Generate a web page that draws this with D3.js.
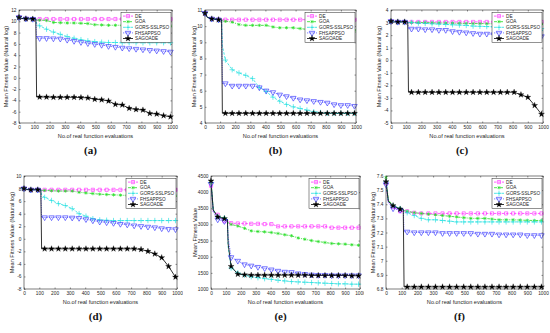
<!DOCTYPE html>
<html>
<head>
<meta charset="utf-8">
<script src="https://cdn.jsdelivr.net/npm/d3@7"></script>
<style>
  body { margin: 0; background: #fff; }
  svg { display: block; }
  text { font-family: "Liberation Sans", Arial, sans-serif; }
</style>
</head>
<body>
<svg id="fig" width="550" height="333"></svg>
<script>
// x positions of the sampled points (number of real function evaluations)
const evals = [0, 15, 45, 90, 110, 115, 135, 180, 225, 270, 315, 360, 405, 450, 495, 540, 585, 630, 675, 720, 765, 810, 855, 900, 945, 990, 1000];
const seriesNames = ["DE", "GOA", "GORS-SSLPSO", "FHSAPPSO", "SAGOADE"];
const xTicks = [0, 100, 200, 300, 400, 500, 600, 700, 800, 900, 1000];

// (a)
const a_DE   = [10.7, 10.5, 10.45, 10.4, 10.4, 10.4, 10.4, 10.4, 10.4, 10.4, 10.4, 10.4, 10.4, 10.4, 10.4, 10.4, 10.4, 10.4, 10.4, 10.4, 10.4, 10.4, 10.4, 10.4, 10.4, 10.4, 10.4];
const a_GOA  = [10.7, 10.5, 10.45, 10.4, 10.4, 10.2, 10.2, 10.15, 9.8, 9.75, 9.7, 9.7, 9.65, 9.6, 9.4, 9.35, 9.3, 9.3, 9.3, 9.3, 9.3, 9.3, 9.25, 9.25, 9.25, 9.2, 8.9];
const a_GORS = [10.7, 10.5, 10.45, 10.4, 10.4, 9.6, 9.2, 8.6, 8.1, 7.7, 7.3, 7.0, 6.75, 6.55, 6.4, 6.3, 6.25, 6.25, 6.2, 6.2, 6.2, 6.2, 6.2, 6.2, 6.2, 6.2, 6.2];
const a_FHS  = [10.7, 10.5, 10.45, 10.4, 10.4, 7.0, 7.0, 7.0, 6.95, 6.9, 6.7, 6.5, 6.3, 6.1, 5.95, 5.8, 5.6, 5.45, 5.3, 5.2, 5.1, 5.0, 4.9, 4.8, 4.7, 4.6, 4.5];
const a_SAGO = [10.7, 10.5, 10.45, 10.4, 10.4, -3.4, -3.4, -3.4, -3.45, -3.45, -3.45, -3.45, -3.5, -3.55, -3.8, -3.9, -4.1, -4.7, -4.8, -5.4, -5.6, -5.7, -6.3, -6.4, -6.7, -6.9, -7.1];
const a_yTicks = [-8, -6, -4, -2, 0, 2, 4, 6, 8, 10, 12];

// (b)
const b_DE   = [10.8, 10.55, 10.45, 10.4, 10.4, 10.4, 10.4, 10.4, 10.4, 10.4, 10.4, 10.4, 10.4, 10.4, 10.4, 10.4, 10.4, 10.4, 10.4, 10.4, 10.4, 10.4, 10.4, 10.4, 10.4, 10.4, 10.4];
const b_GOA  = [10.8, 10.55, 10.45, 10.4, 10.4, 10.3, 10.3, 10.25, 10.1, 10.05, 10.05, 10.05, 10.05, 9.95, 9.9, 9.9, 9.9, 9.85, 9.8, 9.8, 9.8, 9.8, 9.8, 9.8, 9.8, 9.75, 9.6];
const b_GORS = [10.8, 10.55, 10.45, 10.4, 10.4, 8.8, 7.9, 7.3, 7.1, 6.95, 6.75, 6.2, 5.95, 5.6, 5.35, 5.15, 5.0, 4.9, 4.8, 4.7, 4.65, 4.6, 4.6, 4.6, 4.6, 4.6, 4.6];
const b_FHS  = [10.8, 10.55, 10.45, 10.4, 10.4, 6.45, 6.45, 6.3, 6.3, 6.3, 6.3, 6.2, 6.0, 5.9, 5.75, 5.65, 5.55, 5.45, 5.4, 5.35, 5.3, 5.25, 5.15, 5.1, 5.1, 5.05, 5.05];
const b_SAGO = [10.8, 10.55, 10.45, 10.4, 10.4, 4.6, 4.6, 4.6, 4.6, 4.6, 4.6, 4.6, 4.6, 4.6, 4.6, 4.6, 4.6, 4.6, 4.6, 4.6, 4.6, 4.6, 4.6, 4.6, 4.6, 4.6, 4.6];
const b_yTicks = [4, 5, 6, 7, 8, 9, 10, 11];

// (c)
const c_DE   = [3.1, 3.05, 3.05, 3.05, 3.05, 3.05, 3.05, 3.05, 3.05, 3.05, 3.05, 3.05, 3.05, 3.05, 3.05, 3.05, 3.05, 3.05, 3.05, 3.05, 3.05, 3.05, 3.05, 3.05, 3.05, 3.05, 3.05];
const c_GOA  = [3.1, 3.05, 3.05, 3.05, 3.05, 3.0, 3.0, 3.0, 3.0, 2.98, 2.97, 2.96, 2.95, 2.94, 2.93, 2.92, 2.92, 2.91, 2.9, 2.9, 2.9, 2.9, 2.9, 2.9, 2.89, 2.88, 2.85];
const c_GORS = [3.1, 3.05, 3.05, 3.05, 3.05, 3.0, 3.0, 2.95, 2.93, 2.9, 2.88, 2.85, 2.82, 2.8, 2.77, 2.72, 2.7, 2.68, 2.66, 2.64, 2.62, 2.6, 2.58, 2.56, 2.54, 2.52, 2.3];
const c_FHS  = [3.1, 3.05, 3.05, 3.05, 3.05, 2.5, 2.5, 2.5, 2.45, 2.45, 2.4, 2.4, 2.3, 2.25, 2.2, 2.15, 2.1, 2.1, 2.05, 2.0, 2.0, 1.98, 1.95, 1.93, 1.92, 1.9, 1.85];
const c_SAGO = [3.1, 3.05, 3.05, 3.05, 3.05, -2.55, -2.55, -2.55, -2.55, -2.55, -2.55, -2.55, -2.55, -2.55, -2.55, -2.55, -2.55, -2.55, -2.55, -2.55, -2.55, -2.55, -2.75, -2.95, -3.6, -4.3, -4.45];
const c_yTicks = [-5, -4, -3, -2, -1, 0, 1, 2, 3, 4];

// (d)
const d_DE   = [8.0, 7.85, 7.8, 7.8, 7.8, 7.8, 7.8, 7.8, 7.8, 7.8, 7.8, 7.8, 7.8, 7.8, 7.8, 7.8, 7.8, 7.8, 7.8, 7.8, 7.8, 7.8, 7.8, 7.8, 7.8, 7.8, 7.7];
const d_GOA  = [8.0, 7.85, 7.8, 7.8, 7.8, 7.7, 7.7, 7.65, 7.6, 7.6, 7.6, 7.4, 7.3, 7.2, 7.1, 7.05, 7.0, 6.95, 6.9, 6.9, 6.9, 6.9, 6.9, 6.85, 6.85, 6.85, 6.7];
const d_GORS = [8.0, 7.85, 7.8, 7.8, 7.8, 7.0, 6.6, 6.1, 5.6, 5.3, 4.8, 4.0, 3.6, 3.2, 3.0, 2.95, 2.9, 2.9, 2.9, 2.9, 2.9, 2.9, 2.9, 2.9, 2.9, 2.9, 2.9];
const d_FHS  = [8.0, 7.85, 7.8, 7.8, 7.8, 3.4, 3.4, 3.4, 3.4, 3.4, 3.35, 3.3, 3.1, 2.9, 2.7, 2.6, 2.5, 2.35, 2.25, 2.1, 2.0, 1.9, 1.8, 1.65, 1.55, 1.5, 1.45];
const d_SAGO = [8.0, 7.85, 7.8, 7.8, 7.8, -1.6, -1.6, -1.6, -1.6, -1.6, -1.6, -1.6, -1.6, -1.6, -1.6, -1.6, -1.6, -1.6, -1.6, -1.6, -1.7, -2.0, -2.4, -3.0, -4.4, -6.1, -6.3];
const d_yTicks = [-8, -6, -4, -2, 0, 2, 4, 6, 8, 10];

// (e)
const e_DE   = [4200, 3400, 3300, 3100, 3150, 3080, 3040, 3030, 3030, 3020, 3020, 3010, 3010, 2940, 2940, 2940, 2940, 2940, 2940, 2940, 2940, 2900, 2900, 2900, 2900, 2900, 2900];
const e_GOA  = [4300, 3450, 3250, 3200, 3150, 3050, 3000, 2950, 2880, 2800, 2780, 2770, 2750, 2720, 2680, 2650, 2580, 2540, 2500, 2470, 2440, 2410, 2400, 2390, 2370, 2355, 2350];
const e_GORS = [4300, 3450, 3250, 3200, 3150, 2300, 1650, 1500, 1430, 1380, 1350, 1320, 1300, 1270, 1250, 1230, 1220, 1210, 1200, 1190, 1180, 1170, 1160, 1160, 1150, 1150, 1150];
const e_FHS  = [4250, 3400, 3150, 3100, 3150, 2600, 1980, 1870, 1760, 1720, 1680, 1640, 1600, 1560, 1530, 1520, 1480, 1460, 1440, 1430, 1430, 1420, 1420, 1420, 1420, 1420, 1420];
const e_SAGO = [4350, 3450, 3230, 3180, 3150, 2400, 1700, 1460, 1440, 1430, 1430, 1430, 1430, 1430, 1430, 1430, 1430, 1430, 1420, 1420, 1420, 1420, 1420, 1420, 1410, 1410, 1410];
const e_yTicks = [1000, 1500, 2000, 2500, 3000, 3500, 4000, 4500];

// (f)
const f_DE   = [7.55, 7.42, 7.38, 7.35, 7.35, 7.35, 7.35, 7.34, 7.335, 7.335, 7.335, 7.335, 7.335, 7.335, 7.335, 7.335, 7.335, 7.335, 7.335, 7.335, 7.335, 7.335, 7.335, 7.335, 7.335, 7.335, 7.335];
const f_GOA  = [7.59, 7.43, 7.39, 7.37, 7.36, 7.355, 7.35, 7.34, 7.335, 7.33, 7.325, 7.32, 7.315, 7.31, 7.305, 7.3, 7.3, 7.3, 7.295, 7.29, 7.29, 7.29, 7.288, 7.286, 7.285, 7.285, 7.28];
const f_GORS = [7.56, 7.42, 7.39, 7.37, 7.36, 7.35, 7.34, 7.32, 7.3, 7.29, 7.29, 7.285, 7.28, 7.275, 7.275, 7.275, 7.275, 7.275, 7.275, 7.275, 7.275, 7.275, 7.275, 7.275, 7.275, 7.275, 7.27];
const f_FHS  = [7.54, 7.41, 7.37, 7.36, 7.36, 7.205, 7.205, 7.2, 7.2, 7.2, 7.2, 7.195, 7.195, 7.195, 7.195, 7.195, 7.19, 7.19, 7.19, 7.185, 7.185, 7.185, 7.185, 7.18, 7.18, 7.18, 7.18];
const f_SAGO = [7.56, 7.42, 7.39, 7.365, 7.365, 6.815, 6.815, 6.815, 6.815, 6.815, 6.815, 6.815, 6.815, 6.815, 6.815, 6.815, 6.815, 6.815, 6.815, 6.815, 6.815, 6.815, 6.815, 6.815, 6.815, 6.815, 6.815];
const f_yTicks = [6.8, 6.9, 7, 7.1, 7.2, 7.3, 7.4, 7.5, 7.6];

const LOG_LABEL = "Mean Fitness Value (Natural log)";
const X_LABEL = "No.of real function evaluations";

// layout of each panel, in page pixels
const panels = [
  { tag: "(a)", x0: 19, x1: 172, y0: 10, y1: 123, cx0: 0, cx1: 183, cy0: 0, cy1: 165, ylim: [-8, 12], yTicks: a_yTicks, ylabel: LOG_LABEL, ylx: 6, series: [a_DE, a_GOA, a_GORS, a_FHS, a_SAGO] },
  { tag: "(b)", x0: 205, x1: 356, y0: 10, y1: 123, cx0: 183, cx1: 366, cy0: 0, cy1: 165, ylim: [4, 11], yTicks: b_yTicks, ylabel: LOG_LABEL, ylx: 194, series: [b_DE, b_GOA, b_GORS, b_FHS, b_SAGO] },
  { tag: "(c)", x0: 391, x1: 543, y0: 10, y1: 123, cx0: 366, cx1: 550, cy0: 0, cy1: 165, ylim: [-5, 4], yTicks: c_yTicks, ylabel: LOG_LABEL, ylx: 379, series: [c_DE, c_GOA, c_GORS, c_FHS, c_SAGO] },
  { tag: "(d)", x0: 24, x1: 177, y0: 176, y1: 289, cx0: 0, cx1: 183, cy0: 165, cy1: 333, ylim: [-8, 10], yTicks: d_yTicks, ylabel: LOG_LABEL, ylx: 12, series: [d_DE, d_GOA, d_GORS, d_FHS, d_SAGO] },
  { tag: "(e)", x0: 211, x1: 360, y0: 176, y1: 289, cx0: 183, cx1: 364, cy0: 165, cy1: 333, ylim: [1000, 4500], yTicks: e_yTicks, ylabel: "Mean Fitness Value", ylx: 195, series: [e_DE, e_GOA, e_GORS, e_FHS, e_SAGO] },
  { tag: "(f)", x0: 386, x1: 543, y0: 176, y1: 289, cx0: 366, cx1: 550, cy0: 165, cy1: 333, ylim: [6.8, 7.6], yTicks: f_yTicks, ylabel: LOG_LABEL, ylx: 373, series: [f_DE, f_GOA, f_GORS, f_FHS, f_SAGO] }
];

// line + marker style for each algorithm
const styles = [
  { color: "#ff33ff", dash: "2.5,1.5", sym: d3.symbolSquare, size: 10, fill: "none" },
  { color: "#22dd22", dash: "3,1,1,1", sym: d3.symbolAsterisk, size: 8, fill: "none" },
  { color: "#22e0e0", dash: "2.5,1.5", sym: d3.symbolPlus, size: 11, fill: "none" },
  { color: "#3333ff", dash: "0.8,1", sym: d3.symbolTriangle, size: 13, fill: "none", flip: true },
  { color: "#000000", dash: null, sym: d3.symbolStar, size: 11, fill: "#000" }
];

const INK = "#262626";
const svg = d3.select("#fig");
const defs = svg.append("defs");

function markerPath(st) {
  return d3.symbol().type(st.sym).size(st.size)();
}

panels.forEach((p, pi) => {
  defs.append("clipPath").attr("id", "cl" + pi)
    .append("rect").attr("x", p.cx0).attr("y", p.cy0)
    .attr("width", p.cx1 - p.cx0).attr("height", p.cy1 - p.cy0);
  defs.append("clipPath").attr("id", "pl" + pi)
    .append("rect").attr("x", p.x0).attr("y", p.y0)
    .attr("width", p.x1 - p.x0).attr("height", p.y1 - p.y0);

  const g = svg.append("g").attr("clip-path", `url(#cl${pi})`);

  const x = d3.scaleLinear().domain([0, 1000]).range([p.x0, p.x1]);
  const y = d3.scaleLinear().domain(p.ylim).range([p.y1, p.y0]);
  const fmt = d => String(+d.toFixed(2));

  const axes = [
    [d3.axisBottom(x).tickValues(xTicks).tickFormat(fmt), `translate(0,${p.y1})`],
    [d3.axisTop(x).tickValues(xTicks).tickFormat(""), `translate(0,${p.y0})`],
    [d3.axisLeft(y).tickValues(p.yTicks).tickFormat(fmt), `translate(${p.x0},0)`],
    [d3.axisRight(y).tickValues(p.yTicks).tickFormat(""), `translate(${p.x1},0)`]
  ];
  axes.forEach(([ax, tr]) => {
    const a = g.append("g").attr("transform", tr)
      .call(ax.tickSizeInner(-1.5).tickSizeOuter(0).tickPadding(2.5));
    a.select(".domain").remove();
    a.selectAll(".tick line").attr("stroke", INK).attr("stroke-width", 0.5);
    a.selectAll(".tick text").attr("fill", INK).style("font-size", "4.8px");
  });

  // data lines and markers
  const lines = g.append("g").attr("clip-path", `url(#pl${pi})`);
  p.series.forEach((vals, si) => {
    const st = styles[si];
    const line = d3.line().x((d, i) => x(evals[i])).y(d => y(d));
    lines.append("path")
      .attr("d", line(vals))
      .attr("fill", "none")
      .attr("stroke", st.color)
      .attr("stroke-width", 0.8)
      .attr("stroke-dasharray", st.dash);
  });
  p.series.forEach((vals, si) => {
    const st = styles[si];
    const pts = vals.map((v, i) => [evals[i], v]).filter(d => d[0] % 45 === 0);
    g.append("g").selectAll("path")
      .data(pts)
      .enter()
      .append("path")
      .attr("d", markerPath(st))
      .attr("transform", d => `translate(${x(d[0])},${y(d[1])})${st.flip ? " rotate(180)" : ""}`)
      .attr("fill", st.fill)
      .attr("stroke", st.color)
      .attr("stroke-width", si === 4 ? 0.3 : 0.65);
  });

  // box
  g.append("rect")
    .attr("x", p.x0).attr("y", p.y0)
    .attr("width", p.x1 - p.x0).attr("height", p.y1 - p.y0)
    .attr("fill", "none").attr("stroke", INK).attr("stroke-width", 0.6);

  // legend
  const lw = 50, lh = 30, lx = p.x1 - lw - 1, ly = p.y0 + 2.5;
  const leg = g.append("g");
  leg.append("rect").attr("x", lx).attr("y", ly).attr("width", lw).attr("height", lh)
    .attr("fill", "#fff").attr("stroke", INK).attr("stroke-width", 0.5);
  seriesNames.forEach((name, si) => {
    const st = styles[si];
    const yy = ly + 3.6 + si * 5.6;
    leg.append("line").attr("x1", lx + 2).attr("x2", lx + 12).attr("y1", yy).attr("y2", yy)
      .attr("stroke", st.color).attr("stroke-width", 0.8).attr("stroke-dasharray", st.dash);
    leg.append("path").attr("d", markerPath(st))
      .attr("transform", `translate(${lx + 7},${yy})${st.flip ? " rotate(180)" : ""}`)
      .attr("fill", st.fill).attr("stroke", st.color).attr("stroke-width", si === 4 ? 0.3 : 0.65);
    leg.append("text").attr("x", lx + 14).attr("y", yy).attr("dy", "0.35em")
      .style("font-size", "4.7px").attr("fill", INK).text(name);
  });

  // axis titles
  g.append("text")
    .attr("x", (p.x0 + p.x1) / 2).attr("y", p.y1 + 15)
    .attr("text-anchor", "middle").style("font-size", "5.6px").attr("fill", INK)
    .text(X_LABEL);
  g.append("text")
    .attr("transform", `translate(${p.ylx},${(p.y0 + p.y1) / 2}) rotate(-90)`)
    .attr("text-anchor", "middle").attr("dy", "0.35em")
    .style("font-size", "5.6px").attr("fill", INK)
    .text(p.ylabel);

  // panel tag
  g.append("text")
    .attr("x", (p.x0 + p.x1) / 2 - 5).attr("y", p.y1 + 31)
    .attr("text-anchor", "middle")
    .style("font-family", "'Liberation Serif', 'Times New Roman', serif")
    .style("font-weight", "bold").style("font-size", "11px").attr("fill", "#111")
    .text(p.tag);
});
</script>
</body>
</html>
